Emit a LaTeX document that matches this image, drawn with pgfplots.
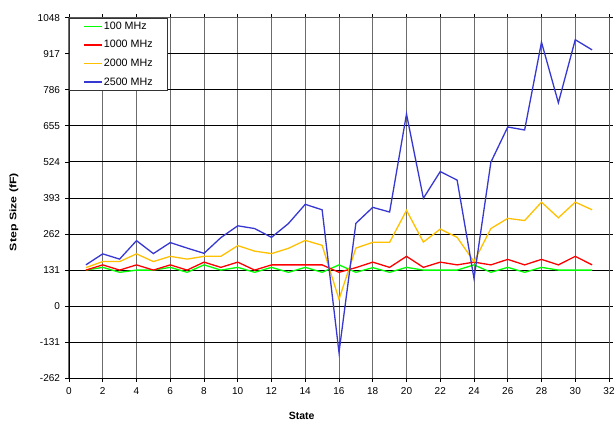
\documentclass[border=0pt]{standalone}
\usepackage{pgfplots}
\pgfplotsset{compat=1.18}
\usepackage{graphicx}
\usepackage{fontspec}
\setmainfont{Liberation Sans}
\definecolor{cgreen}{RGB}{0,255,0}
\definecolor{cred}{RGB}{255,0,0}
\definecolor{corange}{RGB}{255,192,0}
\definecolor{cblue}{RGB}{55,55,210}
\begin{document}
\begin{tikzpicture}
\begin{axis}[
  scale only axis,
  width=540pt, height=360.6pt,
  xmin=0, xmax=32, ymin=-262, ymax=1048,
  xtick={0,2,...,32},
  ytick={-262,-131,0,131,262,393,524,655,786,917,1048},
  /pgf/number format/assume math mode=true,
  /pgf/number format/.cd, 1000 sep={}, /pgfplots/.cd,
  tick label style={font=\fontsize{10}{11}\selectfont},
  yticklabel style={xshift=-2pt},
  xticklabel style={yshift=-2.5pt},
  tick align=outside,
  major tick length=3.5pt,
  tick style={black, line width=0.8pt},
  grid=major,
  x grid style={gray!85!black, line width=1pt},
  y grid style={black, line width=0.9pt},
  axis line style={line width=0.8pt},
  separate axis lines,
  every outer x axis line/.append style={black},
  every outer y axis line/.append style={black},
  xlabel={State},
  ylabel={\scalebox{1.3}[1]{Step Size (fF)}},
  every axis x label/.style={at={(axis description cs:0.431,-0.1045)}, anchor=center, font=\bfseries\fontsize{10.5}{12}\selectfont},
  every axis y label/.style={at={(axis description cs:-0.1019,0.461)}, rotate=90, anchor=center, font=\bfseries\fontsize{9.5}{11}\selectfont},
  legend style={at={(0,1)}, anchor=north west, draw=black!80, line width=0.8pt,
    font=\fontsize{10.7}{12}\selectfont, inner xsep=14pt, inner ysep=3.5pt,
    nodes={inner xsep=1pt, inner ysep=0pt, text height=7.7pt, text depth=2pt},
    row sep=8.9pt, cells={anchor=west}},
  legend image code/.code={\draw[#1, line width=1.5pt] (0pt,0pt) -- (18pt,0pt);},
  legend cell align=left,
  clip=false,
]
\addplot[cgreen, line width=1.3pt] coordinates {
(1,131)(2,141)(3,123)(4,131)(5,131)(6,141)(7,123)(8,150)(9,131)(10,141)(11,123)(12,141)(13,123)(14,141)(15,123)(16,150)(17,123)(18,140)(19,123)(20,141)(21,131)(22,131)(23,131)(24,150)(25,123)(26,141)(27,123)(28,141)(29,131)(30,131)(31,131)};
\addlegendentry{100 MHz}
\addplot[cred, line width=1.3pt] coordinates {
(1,131)(2,150)(3,131)(4,150)(5,131)(6,150)(7,131)(8,160)(9,141)(10,160)(11,131)(12,150)(13,150)(14,150)(15,150)(16,123)(17,140)(18,160)(19,141)(20,181)(21,141)(22,160)(23,150)(24,160)(25,150)(26,170)(27,150)(28,170)(29,150)(30,181)(31,150)};
\addlegendentry{1000 MHz}
\addplot[corange, line width=1.3pt] coordinates {
(1,140)(2,162)(3,162)(4,190)(5,162)(6,181)(7,171)(8,181)(9,181)(10,220)(11,200)(12,191)(13,210)(14,239)(15,221)(16,25)(17,211)(18,232)(19,232)(20,348)(21,233)(22,280)(23,250)(24,162)(25,282)(26,319)(27,311)(28,378)(29,321)(30,378)(31,350)};
\addlegendentry{2000 MHz}
\addplot[cblue, line width=1.3pt] coordinates {
(1,150)(2,190)(3,171)(4,238)(5,191)(6,231)(7,211)(8,192)(9,249)(10,292)(11,282)(12,250)(13,300)(14,370)(15,350)(16,-168)(17,301)(18,359)(19,342)(20,698)(21,392)(22,489)(23,458)(24,101)(25,523)(26,651)(27,640)(28,959)(29,739)(30,968)(31,931)};
\addlegendentry{2500 MHz}
\draw[gray!70!black, line width=1pt] (rel axis cs:0,1) -- (rel axis cs:1,1) -- (rel axis cs:1,0);
\end{axis}
\pgfresetboundingbox
\path[use as bounding box] ([shift={(-69pt,-42.7pt)}]current axis.south west) rectangle ([shift={(7pt,17.7pt)}]current axis.north east);
\end{tikzpicture}
\end{document}
